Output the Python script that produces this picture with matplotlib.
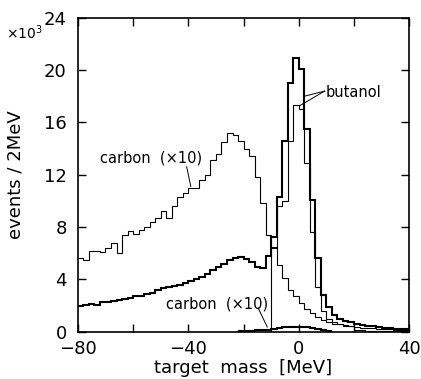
import numpy as np
import matplotlib
matplotlib.use('Agg')
import matplotlib.pyplot as plt

plt.rcParams['font.family'] = ['DejaVu Sans']
plt.rcParams['mathtext.default'] = 'regular'

# 2 MeV bins, -80 .. 40 MeV
edges = np.arange(-80, 41, 2)

# butanol, no cut (thick)
butanol_all = [1.95, 2.05, 2.1, 2.05, 2.25, 2.3, 2.35, 2.45, 2.5, 2.6,
               2.7, 2.75, 2.85, 2.95, 3.2, 3.35, 3.45, 3.5, 3.6, 3.7,
               3.85, 4.05, 4.15, 4.4, 4.7, 4.95, 5.2, 5.45, 5.6, 5.7,
               5.55, 5.3, 4.95, 4.85, 5.8, 7.2, 10.3, 14.6, 19.0, 20.9,
               20.1, 15.5, 10.1, 5.6, 2.8, 1.85, 1.3, 0.95, 0.8, 0.7,
               0.6, 0.5, 0.45, 0.4, 0.35, 0.3, 0.25, 0.2, 0.2, 0.18]

# butanol, with cut (thin)
butanol_cut = [0, 0, 0, 0, 0, 0, 0, 0, 0, 0,
               0, 0, 0, 0, 0, 0, 0, 0, 0, 0,
               0, 0, 0, 0, 0, 0, 0, 0, 0, 0,
               0, 0, 0, 0, 0, 6.4, 9.6, 10.0, 14.6, 17.3,
               17.0, 12.9, 7.6, 3.4, 1.6, 1.0, 0.7, 0.55, 0.45, 0.4,
               0.1, 0.1, 0.08, 0.08, 0.06, 0.05, 0.05, 0.04, 0.04, 0.03]

# carbon x10, no cut (thin)
carbon_all = [5.6, 5.5, 6.2, 6.2, 6.1, 6.4, 6.8, 6.05, 7.4, 7.7,
              7.5, 7.8, 8.0, 8.4, 8.7, 9.2, 8.7, 9.6, 10.3, 10.6,
              11.0, 11.0, 11.6, 12.0, 13.1, 13.6, 14.5, 15.2, 15.0, 14.6,
              14.0, 13.4, 11.8, 9.8, 7.4, 6.5, 5.1, 4.1, 3.2, 2.7,
              2.2, 1.7, 1.4, 1.1, 0.9, 0.75, 0.6, 0.55, 0.5, 0.45,
              0.35, 0.3, 0.28, 0.25, 0.2, 0.2, 0.18, 0.15, 0.15, 0.12]

# carbon x10, with cut (thick, near zero), bins -22 .. 12
cut_edges = np.arange(-22, 13, 2)
carbon_cut = [0.03, 0.05, 0.08, 0.1, 0.12, 0.15, 0.2, 0.3, 0.35,
              0.38, 0.38, 0.35, 0.32, 0.25, 0.18, 0.12, 0.05]

fig = plt.figure(figsize=(4.21, 3.79), dpi=100)
ax = fig.add_axes([0.185, 0.125, 0.787, 0.828])

ax.stairs(carbon_all, edges, baseline=None, color='k', lw=0.8)
ax.stairs(butanol_cut, edges, baseline=None, color='k', lw=0.8)
ax.stairs(butanol_all, edges, baseline=None, color='k', lw=1.5)
ax.stairs(carbon_cut, cut_edges, baseline=None, color='k', lw=1.5)

ax.set_xlim(-80, 40)
ax.set_ylim(0, 24)
ax.set_xticks([-80, -60, -40, -20, 0, 20, 40])
ax.set_xticklabels(['\u221280', '', '\u221240', '', '0', '', '40'])
ax.set_yticks([0, 4, 8, 12, 16, 20, 24])
ax.tick_params(direction='in', length=6, width=1, top=True, right=True,
               labelsize=13)
ax.tick_params(axis='x', pad=6)
ax.tick_params(axis='y', pad=8)
for s in ax.spines.values():
    s.set_linewidth(1.2)

ax.set_xlabel('target  mass  [MeV]', fontsize=13, labelpad=1)
ax.set_ylabel('events / 2MeV', fontsize=13, labelpad=14)
fig.text(0.015, 0.915, '\u00d710$^3$', fontsize=10, va='center')

# labels
ax.text(-53.6, 13.25, 'carbon  (\u00d710)', fontsize=10.5, ha='center', va='center')
ax.plot([-40.6, -39.1], [12.6, 11.1], color='k', lw=0.7)
ax.text(-29.6, 2.1, 'carbon  (\u00d710)', fontsize=10.5, ha='center', va='center')
ax.plot([-14.7, -11.4], [1.8, 0.35], color='k', lw=0.7)
ax.text(9.8, 18.3, 'butanol', fontsize=10.5, ha='left', va='center')
ax.plot([9.4, 2.0], [18.4, 18.0], color='k', lw=0.7)
ax.plot([9.4, 0.5], [18.4, 17.3], color='k', lw=0.7)

fig.savefig('out.png', dpi=100)
